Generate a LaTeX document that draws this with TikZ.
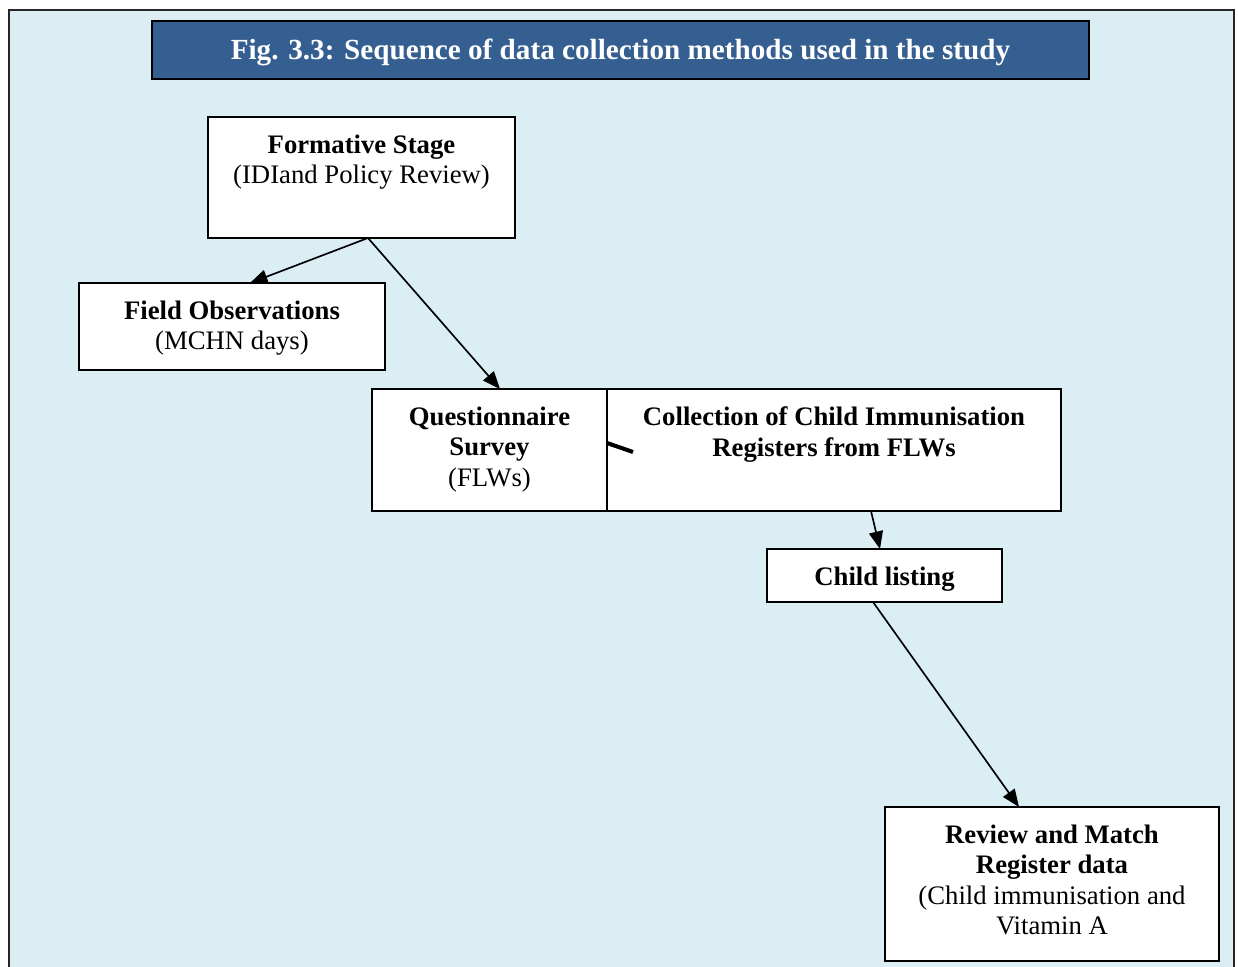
\documentclass[tikz,border=0pt]{standalone}
\usepackage{fontspec}
\setmainfont{Liberation Serif}
\usetikzlibrary{arrows.meta,calc}

\definecolor{panelblue}{HTML}{DBEEF4}
\definecolor{titleblue}{HTML}{365F91}

\tikzset{
  stagebox/.style={draw=black, line width=1pt, fill=white, inner sep=0pt, outer sep=0pt},
  stagetext/.style={align=center, inner sep=0pt, font=\fontsize{15.2}{17.2}\selectfont},
  flow/.style={line width=0.95pt, -{Triangle[length=10pt,width=8pt]}},
}

\begin{document}
\begin{tikzpicture}[x=0.02cm,y=-0.02cm]
  \useasboundingbox (0,0) rectangle (1238,967);

  % panel background
  \fill[white] (0,0) rectangle (1238,967);
  \begin{scope}
    \clip (0,0) rectangle (1238,967);
    \draw[fill=panelblue, draw=black!85, line width=1pt] (9,10) rectangle (1234,985);
  \end{scope}

  % title banner
  \node[draw=black, line width=1.1pt, fill=titleblue, inner sep=0pt, outer sep=0pt,
        minimum width=18.74cm, minimum height=1.16cm] (title) at (620.5,50) {};
  \node[text=white, font=\fontsize{16.6}{19}\selectfont\bfseries, inner sep=0pt] (titletext) at (620.5,52)
    {Fig. 3.3: Sequence of data collection methods used in the study};

  % stage boxes
  \node[stagebox, minimum width=6.14cm, minimum height=2.42cm] (form) at (361.5,177.5) {};
  \node[stagebox, minimum width=6.12cm, minimum height=1.74cm] (field) at (232,326.5) {};
  \node[stagebox, minimum width=4.70cm, minimum height=2.44cm] (quest) at (489.5,450) {};
  \node[stagebox, minimum width=9.08cm, minimum height=2.44cm] (coll) at (834,450) {};
  \node[stagebox, minimum width=4.70cm, minimum height=1.06cm] (child) at (884.5,575.5) {};
  \node[stagebox, minimum width=6.68cm, minimum height=3.08cm] (review) at (1052,884) {};

  % stage labels
  \node[stagetext] (formtext) at (361.5,162) {\textbf{Formative Stage}\\(IDIand Policy Review)};
  \node[stagetext] (fieldtext) at (232,328) {\textbf{Field Observations}\\(MCHN days)};
  \node[stagetext] (questtext) at (489.5,449.5) {\textbf{Questionnaire}\\\textbf{Survey}\\(FLWs)};
  \node[stagetext] (colltext) at (834,434.5) {\textbf{Collection of Child Immunisation}\\\textbf{Registers from FLWs}};
  \node[stagetext] (childtext) at (884.5,579) {\textbf{Child listing}};
  \node[stagetext] (reviewtext) at (1052,880) {\textbf{Review and Match}\\\textbf{Register data}\\(Child immunisation and\\Vitamin A};

  % connectors
  \draw[flow] ([xshift=0.13cm]form.south) -- ([xshift=0.36cm]field.north);
  \draw[flow] ([xshift=0.13cm]form.south) -- ([xshift=0.21cm]quest.north);
  \draw[flow] ([xshift=0.74cm]coll.south) -- ([xshift=-0.09cm]child.north);
  \draw[flow] ([xshift=-0.23cm]child.south) -- ([xshift=-0.66cm]review.north);

  % short stub between the two survey boxes
  \coordinate (stubend) at (633,452);
  \draw[line width=2.3pt] ([yshift=0.14cm]coll.west) -- (stubend);
\end{tikzpicture}
\end{document}
